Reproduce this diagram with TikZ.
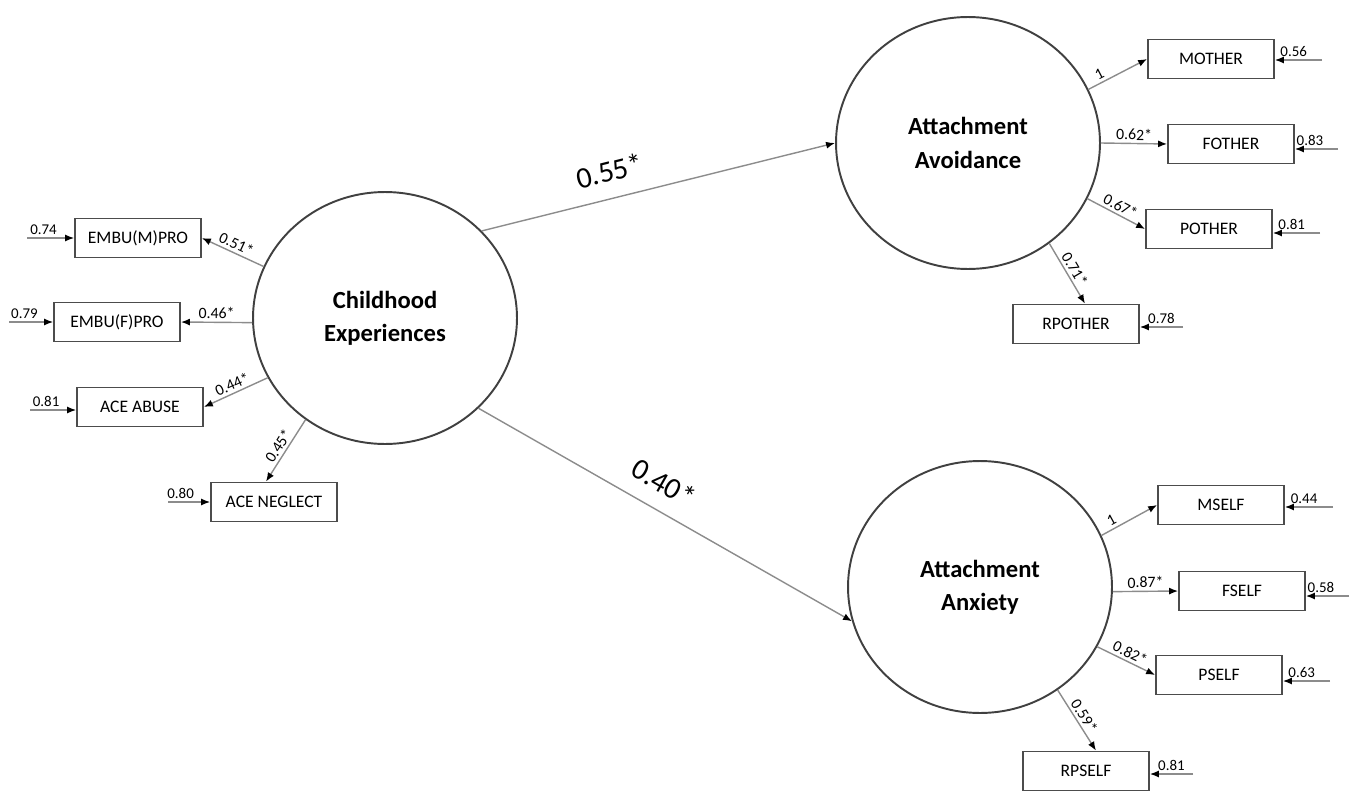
\documentclass[tikz,border=0pt]{standalone}
\usepackage{fontspec}
\setmainfont{Carlito}
\usepackage{tikz}
\usetikzlibrary{arrows.meta, positioning, shapes.geometric}

\begin{document}
\begin{tikzpicture}[x=0.02cm,y=-0.02cm,
                    latent/.style={ellipse,draw=black!75,line width=1.1pt,minimum width=5.28cm,minimum height=5.04cm,inner sep=0pt,align=center,font=\fontsize{14}{19}\selectfont\bfseries},
                    obs/.style={rectangle,draw=black!70,line width=1pt,minimum width=2.52cm,minimum height=0.78cm,inner sep=0pt,font=\fontsize{10}{12}\selectfont},
                    load/.style={draw=black!45,line width=0.8pt,-{Latex[length=1.8mm,width=1.4mm,color=black]}},
                    err/.style={draw=black!45,line width=0.8pt,-{Latex[length=1.8mm,width=1.4mm,color=black]}},
                    lab/.style={font=\fontsize{9}{10}\selectfont,inner sep=1.5pt},
                    errlab/.style={font=\fontsize{8.5}{9}\selectfont,inner sep=1.5pt},
                    biglab/.style={font=\fontsize{17}{19}\selectfont,inner sep=2pt}]

 \useasboundingbox (0,0) rectangle (1353,801);

 % latent factors
 \node[latent] (child) at (385,318) {Childhood\\Experiences};
 \node[latent] (avoid) at (968,143) {Attachment\\Avoidance};
 \node[latent] (anx) at (980,587) {Attachment\\Anxiety};

 % indicators
 \node[obs] (embum) at (138,238) {EMBU(M)PRO};
 \node[obs] (embuf) at (117,322) {EMBU(F)PRO};
 \node[obs] (abuse) at (140,407) {ACE ABUSE};
 \node[obs] (neglect) at (274,502) {ACE NEGLECT};

 \node[obs] (mother) at (1211,59) {MOTHER};
 \node[obs] (fother) at (1231,144) {FOTHER};
 \node[obs] (pother) at (1209,229) {POTHER};
 \node[obs] (rpother) at (1076,324) {RPOTHER};

 \node[obs] (mself) at (1221,505) {MSELF};
 \node[obs] (fself) at (1242,591) {FSELF};
 \node[obs] (pself) at (1219,675) {PSELF};
 \node[obs] (rpself) at (1086,771) {RPSELF};

 % structural paths
 \path
 (child.42) edge[load] node[biglab,sloped,above=7pt,pos=0.38] (s1) {0.55*} (avoid.west)
 (child.316) edge[load] node[biglab,sloped,above=7pt,pos=0.46] (s2) {0.40*} (anx.195);

 % loadings
 \path
 (child.157) edge[load] node[lab,sloped,above] (l1) {0.51*} (embum.east)
 (child.182) edge[load] node[lab,sloped,above] (l2) {0.46*} (embuf.east)
 (child.207) edge[load] node[lab,sloped,above] (l3) {0.44*} (abuse.east)
 (child.232) edge[load] node[lab,sloped,above] (l4) {0.45*} ([xshift=-0.16cm]neglect.north);

 \path
 (avoid.24) edge[load] node[lab,sloped,above,pos=0.25] (l5) {1} (mother.west)
 (avoid.0) edge[load] node[lab,sloped,above] (l6) {0.62*} (fother.west)
 (avoid.335) edge[load] node[lab,sloped,above] (l7) {0.67*} (pother.west)
 (avoid.309) edge[load] node[lab,sloped,above] (l8) {0.71*} ([xshift=0.18cm]rpother.north);

 \path
 (anx.23) edge[load] node[lab,sloped,above,pos=0.25] (l9) {1} (mself.west)
 (anx.358) edge[load] node[lab,sloped,above] (l10) {0.87*} (fself.west)
 (anx.333) edge[load] node[lab,sloped,above] (l11) {0.82*} (pself.west)
 (anx.307) edge[load] node[lab,sloped,above] (l12) {0.59*} ([xshift=0.2cm]rpself.north);

 % error terms
 \coordinate (e1) at (27,238);
 \coordinate (e2) at (9,322);
 \coordinate (e3) at (30,410);
 \coordinate (e4) at (168,502);
 \coordinate (e5) at (1322,60);
 \coordinate (e6) at (1338,149);
 \coordinate (e7) at (1320,233);
 \coordinate (e8) at (1183,327);
 \coordinate (e9) at (1333,507);
 \coordinate (e10) at (1349,596);
 \coordinate (e11) at (1330,681);
 \coordinate (e12) at (1193,774);

 \path
 (e1) edge[err] node[errlab,above,pos=0.35] (r1) {0.74} (e1 -| embum.west)
 (e2) edge[err] node[errlab,above,pos=0.35] (r2) {0.79} (e2 -| embuf.west)
 (e3) edge[err] node[errlab,above,pos=0.35] (r3) {0.81} (e3 -| abuse.west)
 (e4) edge[err] node[errlab,above,pos=0.3] (r4) {0.80} (e4 -| neglect.west)
 (e5) edge[err] node[errlab,above,pos=0.6] (r5) {0.56} (e5 -| mother.east)
 (e6) edge[err] node[errlab,above,pos=0.65] (r6) {0.83} (e6 -| fother.east)
 (e7) edge[err] node[errlab,above,pos=0.6] (r7) {0.81} (e7 -| pother.east)
 (e8) edge[err] node[errlab,above,pos=0.5] (r8) {0.78} (e8 -| rpother.east)
 (e9) edge[err] node[errlab,above,pos=0.6] (r9) {0.44} (e9 -| mself.east)
 (e10) edge[err] node[errlab,above,pos=0.65] (r10) {0.58} (e10 -| fself.east)
 (e11) edge[err] node[errlab,above,pos=0.6] (r11) {0.63} (e11 -| pself.east)
 (e12) edge[err] node[errlab,above,pos=0.5] (r12) {0.81} (e12 -| rpself.east);

\end{tikzpicture}
\end{document}
